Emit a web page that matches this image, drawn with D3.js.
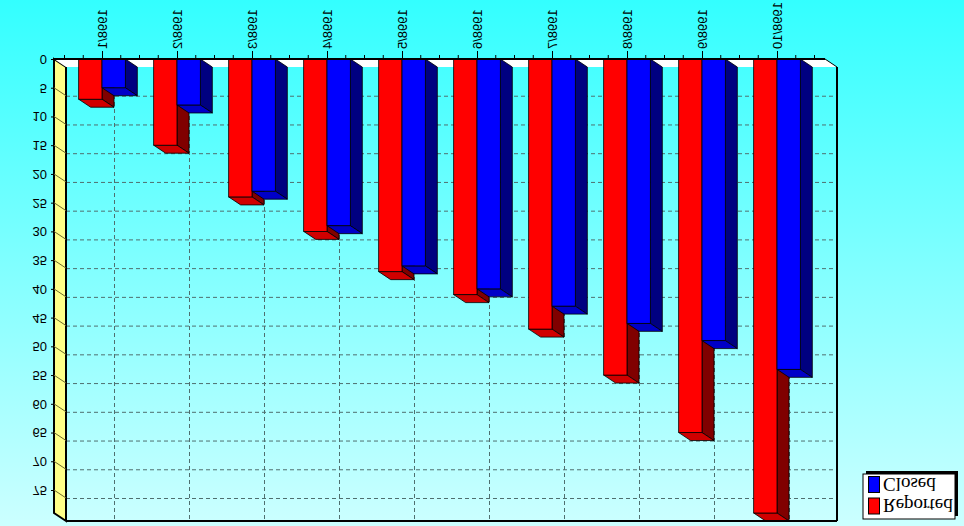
<!DOCTYPE html>
<html><head><meta charset="utf-8">
<script src="https://cdn.jsdelivr.net/npm/d3@7"></script>
<style>body{margin:0;overflow:hidden;background:#fff}</style>
</head><body>
<svg id="c" width="964" height="526"></svg>
<script>
const categories = ["1998/1","1998/2","1998/3","1998/4","1998/5","1998/6","1998/7","1998/8","1998/9","1998/10"];
const reported = [7,15,24,30,37,41,47,55,65,79];
const closed   = [5,8,23,29,36,40,43,46,49,54];
const yTicks = [0,5,10,15,20,25,30,35,40,45,50,55,60,65,70,75];
const seriesNames = ["Reported","Closed"];

const W = 964, H = 526;
const svg = d3.select("#c");
const defs = svg.append("defs");
const grad = defs.append("linearGradient").attr("id","bg")
  .attr("x1",0).attr("y1",0).attr("x2",0).attr("y2",1);
grad.append("stop").attr("offset","0%").attr("stop-color","#33ffff");
grad.append("stop").attr("offset","100%").attr("stop-color","#ccffff");
svg.append("rect").attr("width",W).attr("height",H).attr("fill","url(#bg)");

const DX = 12, DY = 8;
const leftX = 54, rightX = 825, topY = 59;
const x = d3.scalePoint().domain(categories).range([leftX, rightX]).padding(0.64);
const y = d3.scaleLinear().domain([0, 79]).range([topY, 513]);
const bottomY = y(79);
const step = x.step();
const bw = step * 0.311;

// grid
const grid = svg.append("g").attr("stroke","#4f6f6f").attr("stroke-width",1).attr("stroke-dasharray","4,3");
grid.selectAll("line.h").data(yTicks.filter(t=>t>0)).join("line").attr("class","h")
  .attr("x1", leftX+DX).attr("x2", rightX+DX)
  .attr("y1", d=>y(d)+DY+0.5).attr("y2", d=>y(d)+DY+0.5);
grid.selectAll("line.v").data(categories).join("line").attr("class","v")
  .attr("x1", d=>Math.round(x(d)+DX)+0.5).attr("x2", d=>Math.round(x(d)+DX)+0.5)
  .attr("y1", topY+DY).attr("y2", bottomY+DY);

// left wall
svg.append("polygon")
  .attr("points", [[leftX,topY],[leftX+DX,topY+DY],[leftX+DX,bottomY+DY],[leftX,bottomY]].join(" "))
  .attr("fill","#ffff88").attr("stroke","#000").attr("stroke-width",2);
svg.append("g").selectAll("line").data(yTicks.filter(t=>t>0)).join("line")
  .attr("x1", leftX).attr("y1", d=>y(d)).attr("x2", leftX+DX).attr("y2", d=>y(d)+DY)
  .attr("stroke","#6e6a2a").attr("stroke-width",1);

// floor strip
svg.append("polygon")
  .attr("points", [[leftX,topY],[rightX,topY],[rightX+DX,topY+DY],[leftX+DX,topY+DY]].join(" "))
  .attr("fill","#ffffff");

// bars
function bar3d(gg, x0, x1, yb, cols){
  const y0 = topY;
  gg.append("polygon").attr("points", [[x1,y0],[x1+DX,y0+DY],[x1+DX,yb+DY],[x1,yb]].join(" "))
    .attr("fill", cols[1]).attr("stroke","#000").attr("stroke-width",0.8);
  gg.append("polygon").attr("points", [[x0,yb],[x1,yb],[x1+DX,yb+DY],[x0+DX,yb+DY]].join(" "))
    .attr("fill", cols[2]).attr("stroke","#000").attr("stroke-width",0.8);
  gg.append("rect").attr("x", x0).attr("y", y0).attr("width", x1-x0).attr("height", yb-y0)
    .attr("fill", cols[0]).attr("stroke","#000").attr("stroke-width",0.8);
}
const redCols = ["#ff0000","#800000","#d00000"];
const blueCols = ["#0000ff","#000080","#0000c8"];
const bars = svg.append("g");
categories.forEach((c,i)=>{
  const cx = x(c);
  bar3d(bars, cx-bw, cx, y(reported[i]), redCols);
  bar3d(bars, cx, cx+bw, y(closed[i]), blueCols);
});

// box outline
const ol = svg.append("g").attr("stroke","#000").attr("stroke-width",2).attr("fill","none");
ol.append("line").attr("x1",leftX).attr("y1",topY).attr("x2",rightX).attr("y2",topY);
ol.append("line").attr("x1",rightX).attr("y1",topY).attr("x2",rightX+DX).attr("y2",topY+DY).attr("stroke-width",1);
ol.append("line").attr("x1",rightX+DX).attr("y1",topY+DY).attr("x2",rightX+DX).attr("y2",bottomY+DY);
ol.append("line").attr("x1",leftX+DX).attr("y1",bottomY+DY).attr("x2",rightX+DX).attr("y2",bottomY+DY);

// y axis
const yAxis = svg.append("g").attr("transform",`translate(${leftX},0)`)
  .call(d3.axisLeft(y).tickValues(yTicks).tickSize(3).tickPadding(4).tickFormat(d3.format("d")));
yAxis.select(".domain").remove();
yAxis.selectAll("line").attr("stroke","#000");
yAxis.attr("font-family","'Liberation Sans', Arial, sans-serif").attr("font-size",13);
yAxis.selectAll("text").attr("fill","#000").attr("dy","0.35em").attr("transform","scale(1,-1)");

// x axis
const xAxis = svg.append("g").attr("transform",`translate(0,${topY})`)
  .call(d3.axisTop(x).tickSize(8).tickPadding(0));
xAxis.select(".domain").remove();
xAxis.selectAll("line").attr("stroke","#000");
xAxis.attr("font-family","'Liberation Sans', Arial, sans-serif").attr("font-size",13);
xAxis.selectAll("text").attr("fill","#000").attr("y",null).attr("x",null)
  .attr("dy","0.35em").attr("text-anchor","end")
  .attr("transform","translate(0,-10) scale(1,-1) rotate(-90)");
// minor ticks
const minor = [];
categories.forEach(c=>{ [-2,-1,1,2].forEach(k=>minor.push(x(c)+k*step/4)); });
svg.append("g").selectAll("line").data(minor.filter(v=>v>leftX && v<rightX)).join("line")
  .attr("x1",d=>d).attr("x2",d=>d).attr("y1",topY-4).attr("y2",topY)
  .attr("stroke","#000").attr("stroke-width",1);

// legend
const lg = svg.append("g").attr("transform","translate(863,474)");
lg.append("rect").attr("x",3).attr("y",-3).attr("width",92).attr("height",45).attr("fill","#000");
lg.append("rect").attr("x",0).attr("y",0).attr("width",92).attr("height",45)
  .attr("fill","#fff").attr("stroke","#000").attr("stroke-width",1);
const legendItems = [{name:seriesNames[1], col:blueCols[0]},{name:seriesNames[0], col:redCols[0]}];
legendItems.forEach((it,i)=>{
  const yy = 2 + i*21.5;
  lg.append("rect").attr("x",5.5).attr("y",yy+0.5).attr("width",11).attr("height",16)
    .attr("fill",it.col).attr("stroke","#000").attr("stroke-width",1);
  lg.append("text").attr("transform",`translate(20,${yy+8.5}) scale(1,-1)`)
    .attr("dy","0.35em").attr("font-family","'Liberation Serif','Times New Roman',serif")
    .attr("font-size",19).attr("fill","#000").text(it.name);
});
</script>
</body></html>
